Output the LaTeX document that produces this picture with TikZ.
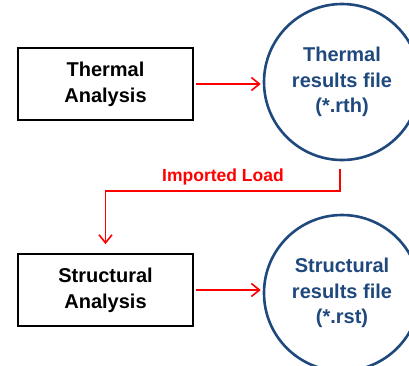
\documentclass[tikz,border=0pt]{standalone}
\usepackage{fontspec}
\setmainfont{Liberation Sans}
\usetikzlibrary{arrows.meta}
\definecolor{fileblue}{HTML}{1F497D}
\tikzset{
  procbox/.style={draw=black, line width=1.8pt, minimum width=175pt, minimum height=72pt, inner sep=0pt, align=center, font=\fontsize{20}{26}\selectfont\bfseries},
  filecircle/.style={circle, draw=fileblue, line width=2.6pt, minimum size=156pt, inner sep=0pt, align=center, text=fileblue, font=\fontsize{20}{25.5}\selectfont\bfseries},
  flow/.style={draw=red, line width=1.8pt, -{Straight Barb[length=8pt,width=13pt,line width=1.6pt]}},
  loadlabel/.style={text=red, font=\fontsize{17.5}{20}\selectfont\bfseries}
}
\begin{document}
\begin{tikzpicture}[x=1pt,y=-1pt]
\useasboundingbox (0,0) rectangle (409,365);
\clip (0,0) rectangle (409,365);
\node[procbox] (ta) at (105.5,84) {Thermal\\Analysis};
\node[filecircle] (tc) at (342,82) {Thermal\\results file\\(*.rth)};
\node[procbox] (sa) at (105.5,290) {Structural\\Analysis};
\node[filecircle] (sc) at (342,293) {Structural\\results file\\(*.rst)};
\draw[flow] ([xshift=2pt]ta.east) -- ([xshift=-2pt]ta.east -| tc.west);
\draw[flow] ([xshift=2pt]sa.east) -- ([xshift=-2pt]sa.east -| sc.west);
\coordinate (bend) at (340,191);
\draw[flow] ([yshift=-8pt]tc.south -| bend) -- (bend) -| ([yshift=9pt]sa.north);
\node[loadlabel] (lbl) at (223,177) {Imported Load};
\end{tikzpicture}
\end{document}
